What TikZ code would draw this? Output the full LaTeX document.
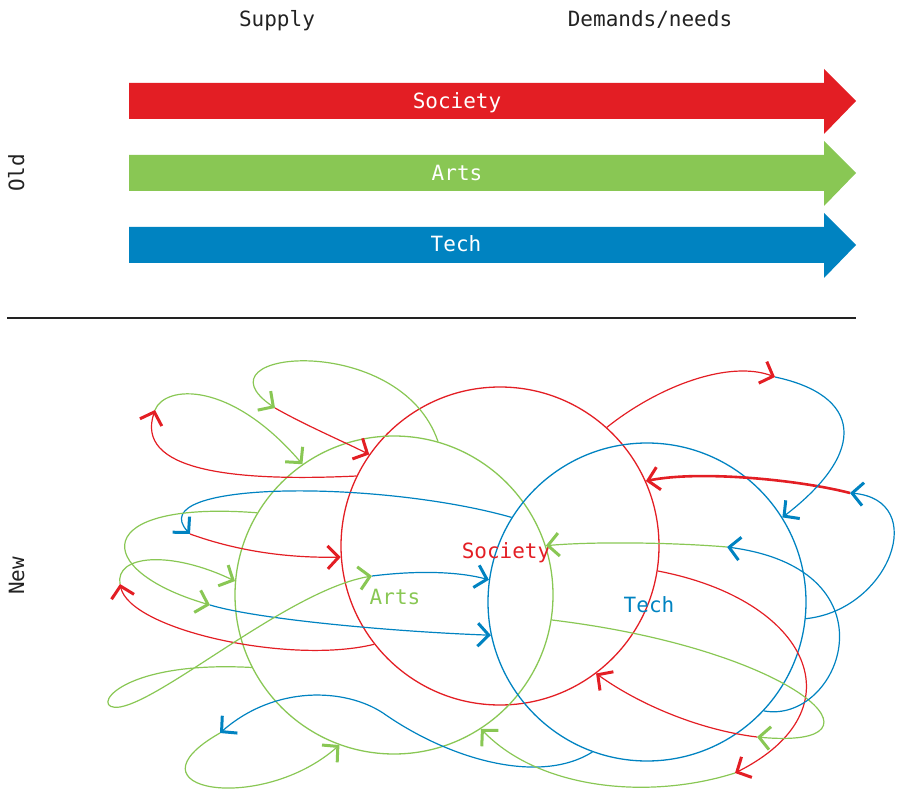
\documentclass[tikz,border=0pt]{standalone}
\usepackage{fontspec}
\setmonofont{DejaVu Sans Mono}
\usetikzlibrary{arrows.meta}
\definecolor{socred}{RGB}{227,30,36}
\definecolor{artsgreen}{RGB}{137,199,84}
\definecolor{techblue}{RGB}{0,131,193}
\definecolor{inkgray}{RGB}{34,34,34}

\begin{document}
\begin{tikzpicture}[x=1pt,y=-1pt,font=\ttfamily\fontsize{21}{25}\selectfont,
  ring/.style={circle,draw=#1,line width=1.3pt,minimum size=318pt,inner sep=0pt},
  flow/.style={draw=#1,line width=1.2pt,-{Straight Barb[length=11pt,width=23pt,line width=3pt]}},
  tag/.style={anchor=base,text=#1}]
\useasboundingbox (0,0) rectangle (900,794);

\begin{scope}
\node[tag=inkgray] (supply) at (277,27) {Supply};
\node[tag=inkgray] (needs) at (650,27) {Demands/needs};
\node[tag=inkgray,rotate=90] (old) at (24,173) {Old};

\fill[socred] (129,83) -- (824,83) -- (824,69) -- (856,101) -- (824,134) -- (824,119) -- (129,119) -- cycle;
\fill[artsgreen] (129,155) -- (824,155) -- (824,141) -- (856,173) -- (824,206) -- (824,191) -- (129,191) -- cycle;
\fill[techblue] (129,227) -- (824,227) -- (824,213) -- (856,245) -- (824,278) -- (824,263) -- (129,263) -- cycle;
\node[tag=white] (oldsoc) at (457,108.5) {Society};
\node[tag=white] (oldarts) at (457,181) {Arts};
\node[tag=white] (oldtech) at (456,252) {Tech};

\draw[inkgray,line width=2.6pt] (7,318) -- (856,318);
\end{scope}

\begin{scope}
\node[tag=inkgray,rotate=90] (new) at (24,576) {New};

\node[ring=socred] (soc) at (500,546) {};
\node[ring=artsgreen] (arts) at (394,595) {};
\node[ring=techblue] (tech) at (647,602) {};
\node[tag=socred] (soctxt) at (506,558) {Society};
\node[tag=artsgreen] (artstxt) at (395,604) {Arts};
\node[tag=techblue] (techtxt) at (649,612) {Tech};

\coordinate (j1) at (275,408);
\coordinate (j2) at (155,410);
\coordinate (j3) at (190,534);
\coordinate (j4) at (210,605);
\coordinate (j5) at (120,584);
\coordinate (j6) at (372,576);
\coordinate (j7) at (220,733);
\coordinate (j8) at (735,773);
\coordinate (j9) at (757,737);
\coordinate (j10) at (850,493);
\coordinate (j11) at (775,377);
\coordinate (j12) at (727,547);
\coordinate (w6) at (120,707);
\coordinate (w7) at (383,713);

\draw[flow=artsgreen] (arts.74) .. controls (400,330) and (190,350) .. (j1);
\draw[flow=socred] (j1) .. controls (305,425) and (340,440) .. (soc.145);

\draw[flow=socred] (soc.154) .. controls (230,482) and (135,470) .. (j2);
\draw[flow=artsgreen] (j2) .. controls (165,385) and (230,380) .. (arts.125);

\draw[flow=techblue] (tech.148) .. controls (380,480) and (140,480) .. (j3);
\draw[flow=socred] (j3) .. controls (240,552) and (290,558) .. (soc.184);

\draw[flow=artsgreen] (arts.149) .. controls (90,500) and (90,570) .. (j4);
\draw[flow=techblue] (j4) .. controls (260,620) and (400,632) .. (tech.192);

\draw[flow=socred] (soc.218) .. controls (290,665) and (130,630) .. (j5);
\draw[flow=artsgreen] (j5) .. controls (115,555) and (170,550) .. (arts.175);

\draw[flow=artsgreen] (arts.207) .. controls (115,660) and (88,712) .. (w6)
  .. controls (165,699) and (290,590) .. (j6);
\draw[flow=techblue] (j6) .. controls (420,570) and (460,572) .. (tech.172);

\draw[flow=techblue] (tech.250) .. controls (540,785) and (450,760) .. (w7)
  .. controls (345,688) and (275,685) .. (j7);
\draw[flow=artsgreen] (j7) .. controls (120,790) and (260,815) .. (arts.250);

\draw[flow=socred] (soc.351) .. controls (810,600) and (860,710) .. (j8);
\draw[flow=artsgreen] (j8) .. controls (650,800) and (540,790) .. (arts.303);

\draw[flow=artsgreen] (arts.351) .. controls (800,650) and (900,750) .. (j9);
\draw[flow=socred] (j9) .. controls (700,730) and (640,705) .. (soc.307);

\draw[flow=techblue] (tech.354) .. controls (890,610) and (930,500) .. (j10);
\draw[flow=socred,line width=2.6pt] (j10) .. controls (800,480) and (700,470) .. (soc.24);

\draw[flow=socred] (soc.48) .. controls (660,385) and (730,360) .. (j11);
\draw[flow=techblue] (j11) .. controls (860,395) and (870,450) .. (tech.32);

\draw[flow=techblue] (tech.317) .. controls (840,725) and (900,570) .. (j12);
\draw[flow=artsgreen] (j12) .. controls (680,543) and (600,541) .. (arts.18);
\end{scope}

\end{tikzpicture}
\end{document}
